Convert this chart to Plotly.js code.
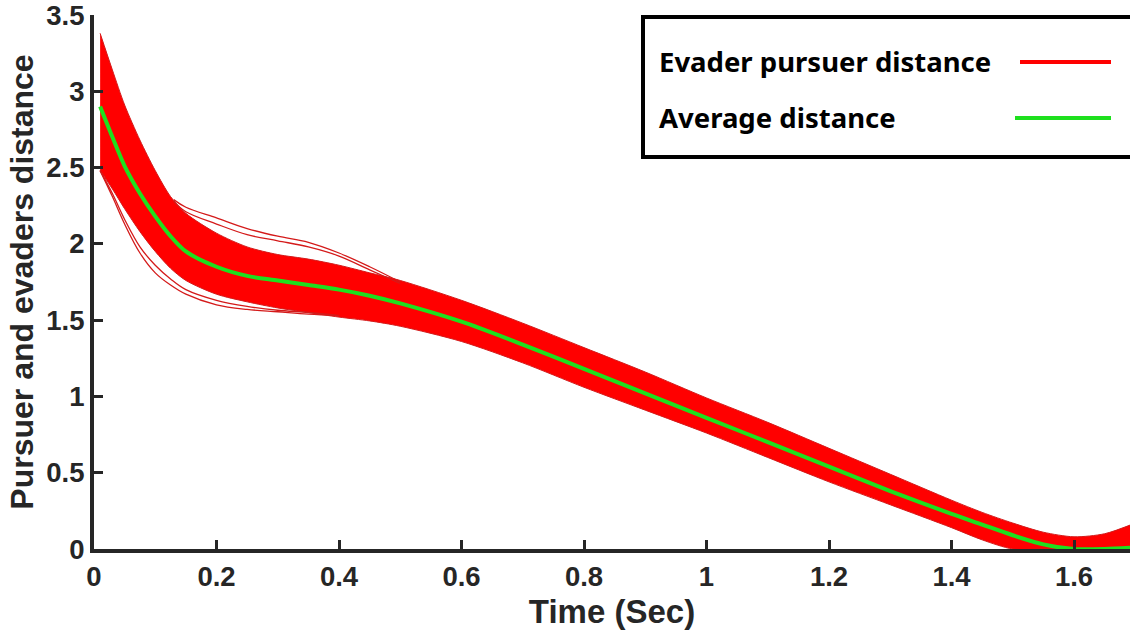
<!DOCTYPE html>
<html>
<head>
<meta charset="utf-8">
<script src="https://cdn.plot.ly/plotly-3.0.1.min.js"></script>
<style>
html,body{margin:0;padding:0;background:#fff;}
#chart{width:1130px;height:636px;}
</style>
</head>
<body>
<div id="chart"></div>
<script>
// Time samples (s)
const time = [0.01, 0.03, 0.05, 0.075, 0.1, 0.125, 0.15, 0.2, 0.25, 0.3, 0.35, 0.4, 0.45, 0.5, 0.6, 0.7, 0.8, 0.9, 1.0, 1.1, 1.2, 1.3, 1.4, 1.45, 1.5, 1.55, 1.6, 1.65, 1.7];
// Upper envelope of the evader-pursuer distance bundle
const upperDist = [3.38, 3.14, 2.91, 2.68, 2.48, 2.31, 2.20, 2.07, 1.98, 1.93, 1.90, 1.86, 1.81, 1.76, 1.63, 1.48, 1.32, 1.16, 0.99, 0.83, 0.66, 0.49, 0.32, 0.24, 0.17, 0.11, 0.08, 0.10, 0.17];
// Lower envelope of the bundle
const lowerDist = [2.48, 2.36, 2.23, 2.08, 1.95, 1.84, 1.76, 1.67, 1.62, 1.58, 1.55, 1.52, 1.495, 1.46, 1.36, 1.22, 1.06, 0.91, 0.76, 0.60, 0.44, 0.29, 0.14, 0.06, 0.0, 0.0, 0.0, 0.0, 0.0];
// Average distance
const meanDist = [2.90, 2.70, 2.51, 2.33, 2.18, 2.05, 1.95, 1.85, 1.79, 1.76, 1.73, 1.70, 1.66, 1.61, 1.49, 1.34, 1.18, 1.02, 0.86, 0.70, 0.54, 0.38, 0.23, 0.16, 0.09, 0.03, 0.0, 0.0, 0.01];

// Individual outlying trajectories
const outTime = [0.13, 0.15, 0.2, 0.25, 0.3, 0.35, 0.4, 0.45, 0.5];
const outHigh1 = [2.29, 2.24, 2.17, 2.10, 2.05, 2.01, 1.94, 1.85, 1.75];
const outHigh2 = [2.28, 2.21, 2.13, 2.06, 2.02, 1.98, 1.92, 1.83, 1.74];
const outLowTime = [0.01, 0.03, 0.05, 0.075, 0.1, 0.125, 0.15, 0.2, 0.25, 0.3, 0.35, 0.4];
const outLow1 = [2.48, 2.31, 2.13, 1.94, 1.81, 1.73, 1.67, 1.60, 1.57, 1.555, 1.54, 1.53];
const outLow2 = [2.48, 2.33, 2.16, 1.98, 1.86, 1.77, 1.70, 1.63, 1.59, 1.565, 1.55, 1.53];

const xTicks = [0, 0.2, 0.4, 0.6, 0.8, 1, 1.2, 1.4, 1.6];
const yTicks = [0, 0.5, 1, 1.5, 2, 2.5, 3, 3.5];

const legendLabels = ['Evader pursuer distance', 'Average distance'];

const RED = '#ff0000';
const DARKRED = '#d41a1a';
const GREEN = '#1ee01e';
const AXC = '#262626';

const traces = [
  {x: time, y: lowerDist, type: 'scatter', mode: 'lines', line: {color: DARKRED, width: 1, shape: 'spline', smoothing: 0.8}, hoverinfo: 'skip', showlegend: false},
  {x: time, y: upperDist, type: 'scatter', mode: 'lines', fill: 'tonexty', fillcolor: RED, line: {color: DARKRED, width: 1, shape: 'spline', smoothing: 0.8}, name: legendLabels[0], showlegend: false},
  {x: outTime, y: outHigh1, type: 'scatter', mode: 'lines', line: {color: DARKRED, width: 1.3, shape: 'spline'}, showlegend: false},
  {x: outTime, y: outHigh2, type: 'scatter', mode: 'lines', line: {color: DARKRED, width: 1.3, shape: 'spline'}, showlegend: false},
  {x: outLowTime, y: outLow1, type: 'scatter', mode: 'lines', line: {color: DARKRED, width: 1.3, shape: 'spline'}, showlegend: false},
  {x: outLowTime, y: outLow2, type: 'scatter', mode: 'lines', line: {color: DARKRED, width: 1.3, shape: 'spline'}, showlegend: false},
  {x: time, y: meanDist, type: 'scatter', mode: 'lines', line: {color: GREEN, width: 4, shape: 'spline', smoothing: 0.8}, name: legendLabels[1], showlegend: false}
];

const tickFont = {family: 'Liberation Sans, Arial, sans-serif', size: 27.5, color: AXC, weight: 'bold'};
const xTitleFont = {family: 'Liberation Sans, Arial, sans-serif', size: 33, color: AXC, weight: 'bold'};
const yTitleFont = {family: 'Liberation Sans, Arial, sans-serif', size: 32, color: AXC, weight: 'bold'};
const legFont = {family: 'Noto Sans, Open Sans, sans-serif', size: 27.5, color: '#000', weight: 'bold'};

const L = 94, R = 1130, T = 15, B = 549;
const px = v => (v - L) / (R - L);
const py = v => (B - v) / (B - T);

const layout = {
  width: 1130, height: 636,
  margin: {l: L, r: 1130 - R, t: T, b: 636 - B},
  paper_bgcolor: '#fff', plot_bgcolor: '#fff',
  showlegend: false,
  xaxis: {
    range: [0, 1.6914], tickvals: xTicks, ticktext: xTicks.map(String),
    ticks: 'inside', ticklen: 9, tickwidth: 3, tickcolor: AXC,
    showline: true, linecolor: AXC, linewidth: 4, showgrid: false, zeroline: false,
    tickfont: tickFont, ticklabeloverflow: 'allow',
    title: {text: 'Time (Sec)', font: xTitleFont, standoff: 10}
  },
  yaxis: {
    range: [0, 3.5], tickvals: yTicks, ticktext: yTicks.map(String),
    ticks: 'inside', ticklen: 9, tickwidth: 3, tickcolor: AXC,
    showline: true, linecolor: AXC, linewidth: 4, showgrid: false, zeroline: false,
    tickfont: tickFont, ticklabeloverflow: 'allow',
    title: {text: 'Pursuer and evaders distance', font: yTitleFont, standoff: 4}
  },
  shapes: [
    {type: 'rect', xref: 'paper', yref: 'paper', x0: px(643), x1: px(1140), y0: py(157), y1: py(17), line: {color: '#000', width: 4}, fillcolor: '#fff', layer: 'above'},
    {type: 'line', xref: 'paper', yref: 'paper', x0: px(1020), x1: px(1111), y0: py(62), y1: py(62), line: {color: RED, width: 4}},
    {type: 'line', xref: 'paper', yref: 'paper', x0: px(1015), x1: px(1111), y0: py(118), y1: py(118), line: {color: GREEN, width: 4}}
  ],
  annotations: [
    {xref: 'paper', yref: 'paper', x: px(657), y: py(62), xanchor: 'left', yanchor: 'middle', text: legendLabels[0], showarrow: false, font: legFont},
    {xref: 'paper', yref: 'paper', x: px(657), y: py(117), xanchor: 'left', yanchor: 'middle', text: legendLabels[1], showarrow: false, font: legFont}
  ]
};

Plotly.newPlot('chart', traces, layout, {displayModeBar: false, staticPlot: true});
</script>
</body>
</html>
